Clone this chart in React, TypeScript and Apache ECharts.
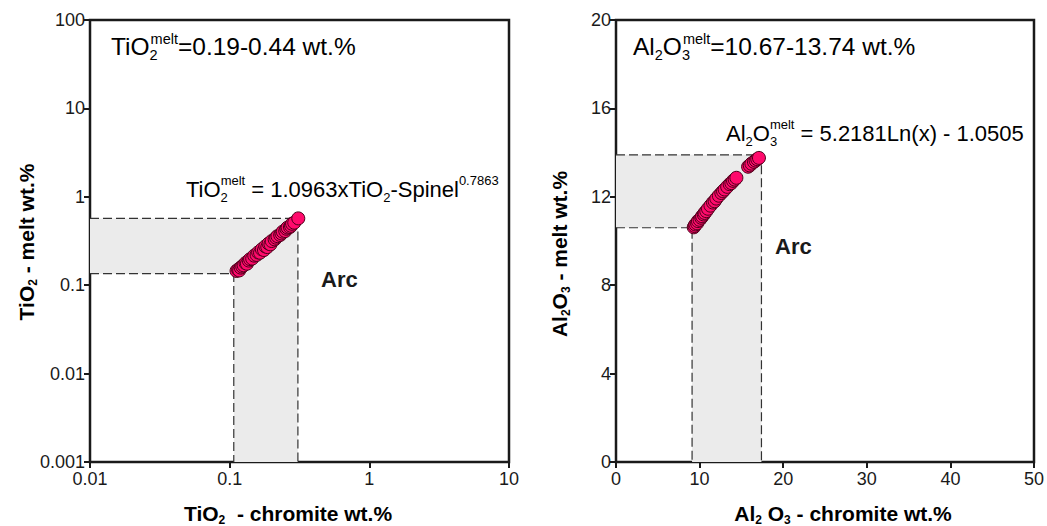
import React, { useEffect, useRef } from "react";
import * as echarts from "echarts";

// ---- data ----
const tiChromite = [0.112, 0.115, 0.117, 0.12, 0.123, 0.126, 0.13, 0.133, 0.137, 0.14, 0.145, 0.15, 0.156, 0.16, 0.165, 0.17, 0.176, 0.18, 0.186, 0.19, 0.196, 0.2, 0.21, 0.215, 0.22, 0.23, 0.235, 0.24, 0.25, 0.255, 0.26, 0.27, 0.275, 0.28, 0.29, 0.31];
const tiMelt = [0.145, 0.15, 0.147, 0.158, 0.163, 0.168, 0.178, 0.175, 0.19, 0.197, 0.2, 0.216, 0.22, 0.235, 0.233, 0.255, 0.25, 0.275, 0.27, 0.296, 0.29, 0.316, 0.33, 0.345, 0.359, 0.37, 0.385, 0.403, 0.41, 0.435, 0.449, 0.455, 0.47, 0.495, 0.51, 0.57];
const alChromite = [9.3, 9.4, 9.5, 9.7, 9.8, 10.0, 10.2, 10.3, 10.5, 10.6, 10.8, 11.0, 11.3, 11.6, 11.8, 12.0, 12.3, 12.6, 12.8, 13.0, 13.3, 13.6, 13.8, 14.0, 14.2, 14.4, 15.8, 16.0, 16.2, 16.5, 16.7, 16.9, 17.1];
const alMelt = [10.62, 10.68, 10.75, 10.8, 10.9, 10.96, 11.05, 11.12, 11.2, 11.27, 11.35, 11.46, 11.6, 11.74, 11.8, 11.92, 12.05, 12.17, 12.25, 12.33, 12.45, 12.57, 12.62, 12.72, 12.78, 12.86, 13.36, 13.42, 13.5, 13.58, 13.64, 13.7, 13.76];
const tiBoxX = [0.107, 0.308];
const tiBoxY = [0.135, 0.57];
const alBoxX = [9.1, 17.4];
const alBoxY = [10.6, 13.9];

const FONT = "Liberation Sans, Arial, Helvetica, sans-serif";
const INK = "#1a1a1a";

function boxSeries(idx: number, bx: number[], by: number[], xmin: number, ymin: number) {
  return {
    type: "custom",
    xAxisIndex: idx,
    yAxisIndex: idx,
    z: 1,
    silent: true,
    clip: false,
    data: [[bx[0], by[0]]],
    renderItem: (_p: any, api: any) => {
      const c = (x: number, y: number) => api.coord([x, y]);
      const pA = c(xmin, by[1]);
      const pB = c(bx[1], by[1]);
      const pC = c(bx[1], ymin);
      const pD = c(bx[0], ymin);
      const pE = c(bx[0], by[0]);
      const pF = c(xmin, by[0]);
      const dash = { stroke: "#333", lineWidth: 1.2, lineDash: [9, 4], fill: null };
      return {
        type: "group",
        children: [
          { type: "polygon", shape: { points: [pA, pB, pC, pD, pE, pF] }, style: { fill: "#ebebeb" } },
          { type: "polyline", shape: { points: [pA, pB, pC] }, style: dash },
          { type: "polyline", shape: { points: [pF, pE, pD] }, style: dash },
        ],
      };
    },
  };
}

const axisCommon = {
  axisLine: { show: false },
  axisTick: { show: true, inside: false, length: 6, lineStyle: { color: INK, width: 2 } },
  splitLine: { show: false },
  minorTick: { show: false },
  axisLabel: { fontSize: 18, color: INK, fontFamily: FONT },
};

const fmt = (v: number) => String(parseFloat(Number(v).toPrecision(6)));

export default function App() {
  const ref = useRef<HTMLDivElement>(null);
  useEffect(() => {
    if (!ref.current) return;
    const chart = echarts.init(ref.current, undefined, { renderer: "svg" });
    const richAnn = {
      n: { fontSize: 24.5, fontFamily: FONT, color: INK, lineHeight: 31, verticalAlign: "middle" },
      s: { fontSize: 14.5, fontFamily: FONT, color: INK, lineHeight: 14, verticalAlign: "bottom", width: 0.01 },
      ss: { fontSize: 14.5, fontFamily: FONT, color: INK, lineHeight: 14, verticalAlign: "bottom" },
      u: { fontSize: 14.5, fontFamily: FONT, color: INK, lineHeight: 31, verticalAlign: "top", padding: [0, 0, 0, 1] },
    };
    const richEq = {
      n: { fontSize: 22, fontFamily: FONT, color: INK, lineHeight: 30, verticalAlign: "middle" },
      s: { fontSize: 13, fontFamily: FONT, color: INK, lineHeight: 13, verticalAlign: "bottom", width: 0.01 },
      ss: { fontSize: 13, fontFamily: FONT, color: INK, lineHeight: 13, verticalAlign: "bottom" },
      u: { fontSize: 13, fontFamily: FONT, color: INK, lineHeight: 30, verticalAlign: "top" },
    };
    const richT = {
      b: { fontSize: 21, fontWeight: "bold", fontFamily: FONT, color: INK, lineHeight: 26, verticalAlign: "middle" },
      s: { fontSize: 12, fontWeight: "bold", fontFamily: FONT, color: INK, lineHeight: 12, verticalAlign: "bottom" },
    };
    chart.setOption({
      animation: false,
      grid: [
        { left: 90, top: 20, width: 419, height: 442, show: true, borderColor: INK, borderWidth: 2.5, backgroundColor: "transparent" },
        { left: 616, top: 20, width: 420, height: 442, show: true, borderColor: INK, borderWidth: 2.5, backgroundColor: "transparent" },
      ],
      xAxis: [
        { ...axisCommon, gridIndex: 0, type: "log", logBase: 10, min: 0.01, max: 10, axisLabel: { ...axisCommon.axisLabel, margin: 8, formatter: fmt } },
        { ...axisCommon, gridIndex: 1, type: "value", min: 0, max: 50, interval: 10, axisLabel: { ...axisCommon.axisLabel, margin: 8 } },
      ],
      yAxis: [
        { ...axisCommon, gridIndex: 0, type: "log", logBase: 10, min: 0.001, max: 100, axisLabel: { ...axisCommon.axisLabel, margin: 5, formatter: fmt } },
        { ...axisCommon, gridIndex: 1, type: "value", min: 0, max: 20, interval: 4, axisLabel: { ...axisCommon.axisLabel, margin: 5 } },
      ],
      series: [
        boxSeries(0, tiBoxX, tiBoxY, 0.01, 0.001),
        boxSeries(1, alBoxX, alBoxY, 0, 0),
        {
          type: "scatter", xAxisIndex: 0, yAxisIndex: 0, z: 3, symbolSize: 13,
          data: tiChromite.map((x, i) => [x, tiMelt[i]]),
          itemStyle: { color: "#ff0a6c", borderColor: "#4a0018", borderWidth: 1, opacity: 1 },
        },
        {
          type: "scatter", xAxisIndex: 1, yAxisIndex: 1, z: 3, symbolSize: 13,
          data: alChromite.map((x, i) => [x, alMelt[i]]),
          itemStyle: { color: "#ff0a6c", borderColor: "#4a0018", borderWidth: 1, opacity: 1 },
        },
      ],
      graphic: [
        { type: "text", left: 111, top: 31, style: { text: "{n|TiO}{s|2}{u|melt}{n|=0.19-0.44 wt.%}", rich: richAnn } },
        { type: "text", left: 633, top: 31, style: { text: "{n|Al}{ss|2}{n|O}{s|3}{u|melt}{n|=10.67-13.74 wt.%}", rich: richAnn } },
        { type: "text", left: 186, top: 174, style: { text: "{n|TiO}{s|2}{u|melt}{n| = 1.0963xTiO}{ss|2}{n|-Spinel}{u|0.7863}", rich: richEq } },
        { type: "text", left: 726, top: 118, style: { text: "{n|Al}{ss|2}{n|O}{s|3}{u|melt}{n| = 5.2181Ln(x) - 1.0505}", rich: richEq } },
        { type: "text", left: 321, top: 268, style: { text: "Arc", fontSize: 22, fontWeight: "bold", fontFamily: FONT, fill: INK } },
        { type: "text", left: 775, top: 235, style: { text: "Arc", fontSize: 22, fontWeight: "bold", fontFamily: FONT, fill: INK } },
        { type: "text", x: 288, y: 513, style: { text: "{b|TiO}{s|2}{b|  - chromite wt.%}", rich: richT, align: "center", verticalAlign: "middle" } },
        { type: "text", x: 843, y: 513, style: { text: "{b|Al}{s|2}{b| O}{s|3}{b| - chromite wt.%}", rich: richT, align: "center", verticalAlign: "middle" } },
        { type: "text", x: 26, y: 242, rotation: Math.PI / 2, style: { text: "{b|TiO}{s|2}{b| - melt wt.%}", rich: richT, align: "center", verticalAlign: "middle" } },
        { type: "text", x: 559, y: 254, rotation: Math.PI / 2, style: { text: "{b|Al}{s|2}{b|O}{s|3}{b| - melt wt.%}", rich: richT, align: "center", verticalAlign: "middle" } },
      ],
    });
    return () => chart.dispose();
  }, []);
  return <div ref={ref} style={{ position: "fixed", left: 0, top: 0, width: 1047, height: 526, background: "#fff" }} />;
}
